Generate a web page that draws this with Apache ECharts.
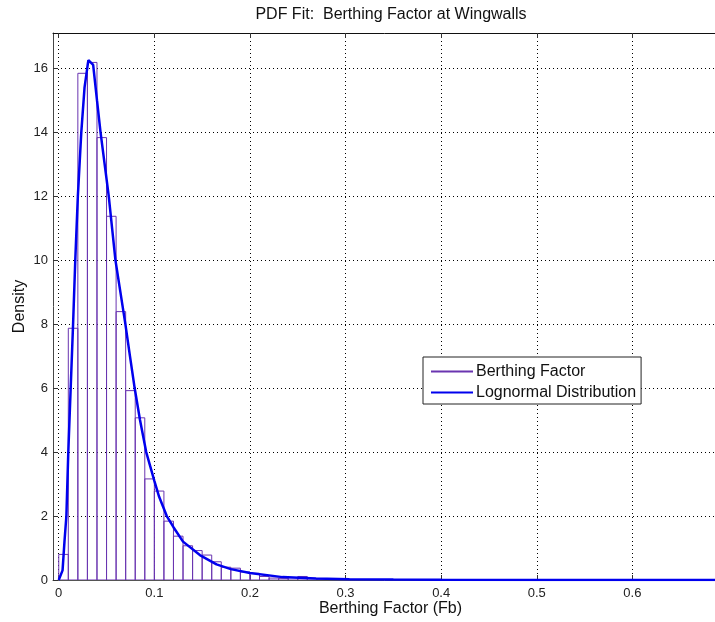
<!DOCTYPE html>
<html>
<head>
<meta charset="utf-8">
<script src="https://cdn.jsdelivr.net/npm/echarts@6/dist/echarts.min.js"></script>
<style>
  html, body { margin: 0; padding: 0; background: #fff; }
  #chart { width: 715px; height: 622px; }
</style>
</head>
<body>
<div id="chart"></div>
<script>
// Histogram bins (left edge, right edge) and their densities
const binLeft = [0, 0.01, 0.02, 0.03, 0.04, 0.05, 0.06, 0.07, 0.08, 0.09,
                 0.10, 0.11, 0.12, 0.13, 0.14, 0.15, 0.16, 0.17, 0.18, 0.19,
                 0.20, 0.21, 0.22, 0.23, 0.24, 0.25, 0.26, 0.27, 0.28, 0.29];
const binRight = [0.01, 0.02, 0.03, 0.04, 0.05, 0.06, 0.07, 0.08, 0.09, 0.10,
                  0.11, 0.12, 0.13, 0.14, 0.15, 0.16, 0.17, 0.18, 0.19, 0.20,
                  0.21, 0.22, 0.23, 0.24, 0.25, 0.26, 0.27, 0.28, 0.29, 0.30];
const binDensity = [0.8, 7.87, 15.84, 16.18, 13.83, 11.37, 8.39, 5.92, 5.07, 3.16,
                    2.78, 1.84, 1.37, 1.07, 0.92, 0.78, 0.57, 0.4, 0.37, 0.25,
                    0.21, 0.11, 0.06, 0.05, 0.07, 0.11, 0.05, 0.03, 0.02, 0.01];

// Fitted lognormal density curve
const fitX = [0, 0.002, 0.004, 0.006, 0.008, 0.010, 0.0125, 0.015, 0.0173, 0.020,
              0.0236, 0.027, 0.031, 0.036, 0.040, 0.0437, 0.048, 0.0523, 0.0593, 0.0645,
              0.0697, 0.0745, 0.0794, 0.085, 0.0915, 0.100, 0.105, 0.113, 0.120, 0.130,
              0.1476, 0.165, 0.180, 0.200, 0.234, 0.269, 0.304, 0.350, 0.400, 0.500,
              0.600, 0.700];
const fitY = [0, 0.05, 0.3, 1.2, 2.0, 4.0, 6.0, 8.0, 10.0, 12.0,
              14.0, 15.4, 16.25, 16.1, 15.0, 14.0, 13.0, 12.0, 10.0, 9.0,
              8.0, 7.0, 6.0, 5.0, 4.0, 3.1, 2.6, 2.0, 1.65, 1.2,
              0.78, 0.49, 0.34, 0.22, 0.09, 0.045, 0.025, 0.012, 0.006, 0.002,
              0.001, 0];

const xTicks = [0, 0.1, 0.2, 0.3, 0.4, 0.5, 0.6];
const xTickLabels = ['0', '0.1', '0.2', '0.3', '0.4', '0.5', '0.6'];

const FONT = '"Liberation Sans", Arial, sans-serif';
const histColor = '#6a35b0';
const fitColor = '#0000ee';

const histData = binLeft.map((l, i) => [l, binRight[i], binDensity[i]]);
const fitData = fitX.map((x, i) => [x, fitY[i]]);

const chart = echarts.init(document.getElementById('chart'), null, { renderer: 'canvas' });

const gridLine = { show: true, lineStyle: { color: '#000', width: 1, type: [1, 3] } };

chart.setOption({
  backgroundColor: '#fff',
  animation: false,
  title: {
    text: 'PDF Fit:  Berthing Factor at Wingwalls',
    left: 386, top: 2, textAlign: 'center',
    textStyle: { fontFamily: FONT, fontSize: 16, fontWeight: 'normal', color: '#111' }
  },
  legend: {
    left: 423, top: 357, orient: 'vertical',
    padding: [6, 5, 3, 8], itemGap: 4, itemWidth: 42, itemHeight: 2,
    backgroundColor: '#fff', borderColor: '#222', borderWidth: 1,
    textStyle: { fontFamily: FONT, fontSize: 16, color: '#111', lineHeight: 17, padding: [0, 0, 0, -2] },
    data: [
      { name: 'Berthing Factor', icon: 'rect', itemStyle: { color: histColor } },
      { name: 'Lognormal Distribution', icon: 'rect', itemStyle: { color: fitColor } }
    ]
  },
  grid: { left: 53, top: 33, right: -13, bottom: 42, containLabel: false, outerBoundsMode: 'none' },
  xAxis: [{
    type: 'value', min: -0.006, max: 0.7,
    name: 'Berthing Factor (Fb)', nameLocation: 'middle', nameGap: 21, nameMoveOverlap: false,
    nameTextStyle: { fontFamily: FONT, fontSize: 16, color: '#111' },
    axisLine: { show: true, onZero: false, lineStyle: { color: '#555', width: 1 } },
    axisTick: { show: true, inside: true, length: 5, customValues: xTicks, lineStyle: { color: '#333' } },
    axisLabel: {
      customValues: xTicks, margin: 7,
      fontFamily: FONT, fontSize: 13, color: '#222',
      formatter: v => xTickLabels[xTicks.indexOf(Math.round(v * 10) / 10)] || ''
    },
    splitLine: gridLine
  }, {
    type: 'value', min: -0.006, max: 0.7, position: 'top',
    axisLine: { show: true, onZero: false, lineStyle: { color: '#111', width: 1 } },
    axisTick: { show: true, inside: true, length: 5, customValues: xTicks, lineStyle: { color: '#333' } },
    axisLabel: { show: false },
    splitLine: { show: false }
  }],
  yAxis: {
    type: 'value', min: 0, max: 17.1, interval: 2,
    name: 'Density', nameLocation: 'middle', nameGap: 25, nameRotate: 90, nameMoveOverlap: false,
    nameTextStyle: { fontFamily: FONT, fontSize: 16, color: '#111' },
    axisLine: { show: true, onZero: false, lineStyle: { color: '#444', width: 1 } },
    axisTick: { show: true, inside: true, length: 5, lineStyle: { color: '#333' } },
    axisLabel: { margin: 5, fontFamily: FONT, fontSize: 13, color: '#222', showMaxLabel: false },
    splitLine: gridLine
  },
  series: [{
    name: 'Berthing Factor',
    type: 'custom',
    data: histData,
    encode: { x: [0, 1], y: 2 },
    clip: true,
    renderItem: (params, api) => {
      const p0 = api.coord([api.value(0), api.value(2)]);
      const p1 = api.coord([api.value(1), 0]);
      return {
        type: 'rect',
        shape: { x: p0[0], y: p0[1], width: p1[0] - p0[0], height: p1[1] - p0[1] },
        style: { fill: 'rgba(255,255,255,0)', stroke: histColor, lineWidth: 1 }
      };
    },
    z: 2
  }, {
    name: 'Lognormal Distribution',
    type: 'line',
    data: fitData,
    showSymbol: false,
    smooth: false,
    lineStyle: { color: fitColor, width: 2.5 },
    itemStyle: { color: fitColor },
    clip: true,
    z: 3
  }]
});
</script>
</body>
</html>
